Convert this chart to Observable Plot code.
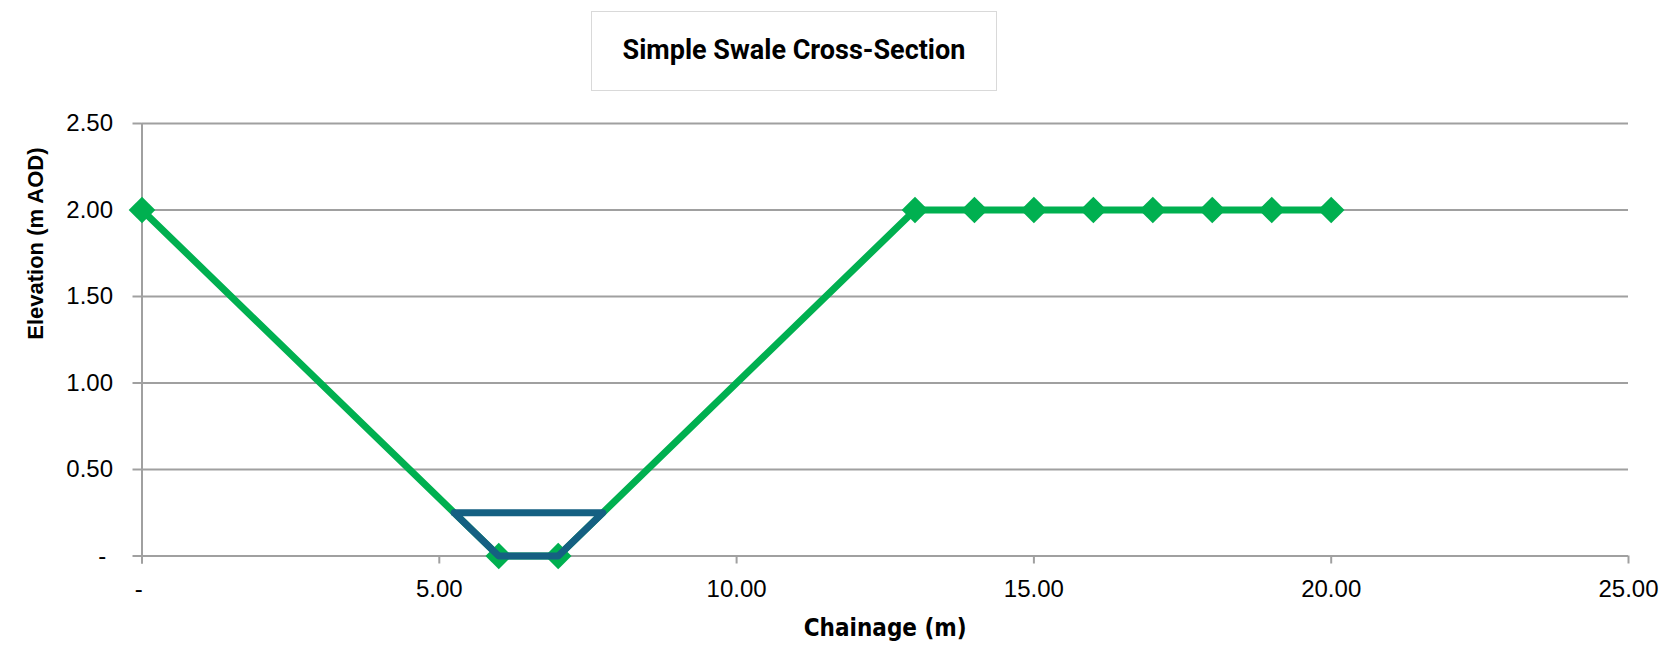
<!DOCTYPE html>
<html><head><meta charset="utf-8">
<script src="https://cdn.jsdelivr.net/npm/d3@7"></script>
<script src="https://cdn.jsdelivr.net/npm/@observablehq/plot@0.6"></script>
<style>
body{margin:0;background:#fff;}
#wrap{position:relative;width:1666px;height:647px;}
#title{position:absolute;left:591px;top:11px;width:406px;height:80px;border:1.5px solid #d9d9d9;box-sizing:border-box;display:flex;align-items:center;justify-content:center;font:bold 27px Roboto, "Liberation Sans", sans-serif;color:#000;background:#fff;padding-bottom:2px;}
</style></head>
<body>
<div id="wrap"><div id="title">Simple Swale Cross-Section</div></div>
<script>
const chainage = [0, 6, 7, 13, 14, 15, 16, 17, 18, 19, 20];
const elevation = [2, 0, 0, 2, 2, 2, 2, 2, 2, 2, 2];
const waterChainage = [5.25, 6, 7, 7.75, 5.25];
const waterLevel = [0.25, 0, 0, 0.25, 0.25];
const xTicks = [0, 5, 10, 15, 20, 25];
const yTicks = [0, 0.5, 1, 1.5, 2, 2.5];
const xLabel = "Chainage (m)";
const yLabel = "Elevation (m AOD)";

const ground = chainage.map((c, i) => ({x: c, y: elevation[i]}));
const water = waterChainage.map((c, i) => ({x: c, y: waterLevel[i]}));
const fmt = d => d === 0 ? "-\u00a0" : d.toFixed(2);
const gray = "#a0a0a0";
const sans = "Liberation Sans, Arial, sans-serif";

const chart = Plot.plot({
  width: 1666, height: 647,
  marginLeft: 141.5, marginRight: 38, marginTop: 123, marginBottom: 91.5,
  x: {domain: [0, 25]},
  y: {domain: [0, 2.5]},
  marks: [
    Plot.ruleY(yTicks.filter(d => d > 0), {stroke: gray, strokeWidth: 2}),
    Plot.ruleY([0], {stroke: gray, strokeWidth: 2}),
    Plot.ruleX([0], {stroke: gray, strokeWidth: 2, insetBottom: -8}),
    Plot.axisY({ticks: yTicks, tickFormat: fmt, tickSize: 9, tickPadding: 20, stroke: gray, strokeWidth: 2, fill: "#000", fontSize: 24, fontFamily: sans, label: null}),
    Plot.axisX({ticks: xTicks, tickFormat: fmt, tickSize: 8, tickPadding: 16, stroke: gray, strokeWidth: 2, fill: "#000", fontSize: 24, fontFamily: sans, label: null}),
    Plot.line(ground, {x: "x", y: "y", stroke: "#00b050", strokeWidth: 7, strokeLinejoin: "round"}),
    Plot.dot(ground, {x: "x", y: "y", symbol: "diamond2", r: 12, fill: "#00b050", stroke: "none"}),
    Plot.line(water, {x: "x", y: "y", stroke: "#156082", strokeWidth: 7, strokeLinejoin: "round", strokeLinecap: "round"}),
    Plot.text([xLabel], {frameAnchor: "bottom", dy: 80, fontSize: 24, fontWeight: "bold", fontFamily: "Liberation Sans Narrow, DejaVu Sans Condensed, sans-serif", fill: "#000"}),
    Plot.text([yLabel], {frameAnchor: "left", dx: -106, rotate: -90, fontSize: 22, fontWeight: "bold", fontFamily: sans, fill: "#000"})
  ]
});
chart.style.position = "absolute";
chart.style.left = "0";
chart.style.top = "0";
const wrap = document.getElementById("wrap");
wrap.insertBefore(chart, wrap.firstChild);
</script>
</body></html>
